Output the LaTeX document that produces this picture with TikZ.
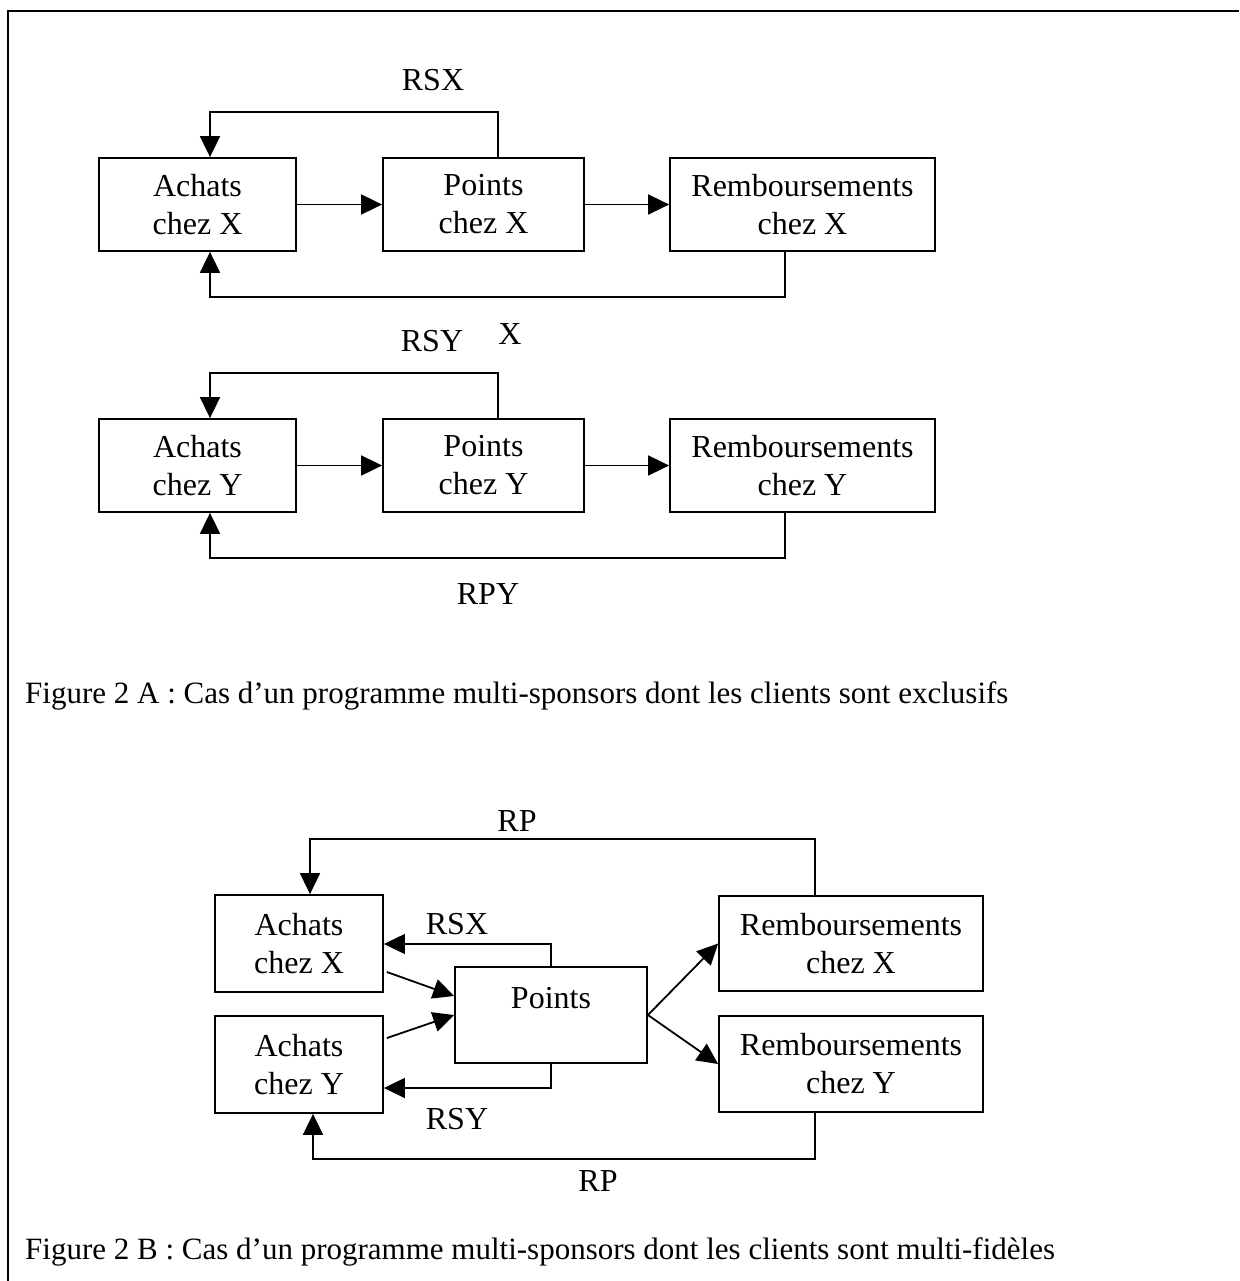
\documentclass[tikz,border=0pt]{standalone}
\usepackage{fontspec}
\setmainfont{Liberation Serif}
\usetikzlibrary{arrows.meta}
\begin{document}
\begin{tikzpicture}[x=1pt,y=-1pt,
  box/.style={draw,line width=1.8pt,inner sep=0pt,align=center,font=\fontsize{32}{38}\selectfont},
  lbl/.style={inner sep=0pt,anchor=base,font=\fontsize{32}{38}\selectfont},
  captext/.style={inner sep=0pt,anchor=base west,font=\fontsize{31}{37}\selectfont},
  arr/.style={line width=1.8pt,-{Triangle[length=21pt,width=20pt]}},
  arrthin/.style={line width=1.1pt,-{Triangle[length=21pt,width=20pt]}}]
\useasboundingbox (0,0) rectangle (1239,1281);
% frame
\draw[line width=2.6pt] (1239,11) -- (8,11) -- (8,1281);

% ---------- Figure A ----------
\node[box,minimum width=197pt,minimum height=93pt] (ax) at (197.5,204.5) {Achats\\chez X};
\node[box,minimum width=201pt,minimum height=93pt] (px) at (483.5,204.5) {Points\\chez X};
\node[box,minimum width=265pt,minimum height=93pt] (rx) at (802.5,204.5) {Remboursements\\chez X};
\node[box,minimum width=197pt,minimum height=93pt] (ay) at (197.5,465.5) {Achats\\chez Y};
\node[box,minimum width=201pt,minimum height=93pt] (py) at (483.5,465.5) {Points\\chez Y};
\node[box,minimum width=265pt,minimum height=93pt] (ry) at (802.5,465.5) {Remboursements\\chez Y};

\draw[arr] (ax.east) -- (px.west);
\draw[arr] (px.east) -- (rx.west);
\draw[arr] (ay.east) -- (py.west);
\draw[arr] (py.east) -- (ry.west);

\coordinate (ca1) at (498,112);
\coordinate (ca2) at (210,112);
\draw[arr] (px.north -| ca1) -- (ca1) -- (ca2) -- (ax.north -| ca2);
\coordinate (ca3) at (785,297);
\coordinate (ca4) at (210,297);
\draw[arr] (rx.south -| ca3) -- (ca3) -- (ca4) -- (ax.south -| ca4);

\coordinate (cb1) at (498,373);
\coordinate (cb2) at (210,373);
\draw[arr] (py.north -| cb1) -- (cb1) -- (cb2) -- (ay.north -| cb2);
\coordinate (cb3) at (785,558);
\coordinate (cb4) at (210,558);
\draw[arr] (ry.south -| cb3) -- (cb3) -- (cb4) -- (ay.south -| cb4);

\node[lbl] (lrsx) at (433,91) {RSX};
\node[lbl] (lx) at (510,344) {X};
\node[lbl] (lrsy) at (432,351) {RSY};
\node[lbl] (lrpy) at (488,604) {RPY};

\node[captext] (capa) at (25,703) {Figure 2 A : Cas d’un programme multi-sponsors dont les clients sont exclusifs};

% ---------- Figure B ----------
\node[box,minimum width=168pt,minimum height=97pt] (bax) at (299,943.5) {Achats\\chez X};
\node[box,minimum width=168pt,minimum height=97pt] (bay) at (299,1064.5) {Achats\\chez Y};
\node[box,minimum width=192pt,minimum height=96pt] (bp) at (551,1015) {};
\node[lbl] (bptxt) at (551,1008) {Points};
\node[box,minimum width=264pt,minimum height=95pt] (brx) at (851,943.5) {Remboursements\\chez X};
\node[box,minimum width=264pt,minimum height=96pt] (bry) at (851,1064) {Remboursements\\chez Y};

\coordinate (cc1) at (815,839);
\coordinate (cc2) at (310,839);
\draw[arr] (brx.north -| cc1) -- (cc1) -- (cc2) -- (bax.north -| cc2);
\coordinate (cc3) at (815,1159);
\coordinate (cc4) at (313,1159);
\draw[arr] (bry.south -| cc3) -- (cc3) -- (cc4) -- (bay.south -| cc4);

\coordinate (cc5) at (551,944);
\draw[arrthin] (bp.north) -- (cc5) -- (bax.east |- cc5);
\coordinate (cc6) at (551,1088);
\draw[arr,line width=1.5pt] (bp.south) -- (cc6) -- (bay.east |- cc6);

\draw[arr] ([xshift=3pt,yshift=-28.5pt]bax.east) -- ([yshift=19pt]bp.west);
\draw[arr] ([xshift=3pt,yshift=26.5pt]bay.east) -- (bp.west);
\draw[arr] (bp.east) -- (brx.west);
\draw[arr] (bp.east) -- (bry.west);

\node[lbl] (lrp1) at (517,831) {RP};
\node[lbl] (lrsx2) at (457,934) {RSX};
\node[lbl] (lrsy2) at (457,1129) {RSY};
\node[lbl] (lrp2) at (598,1191) {RP};

\node[captext] (capb) at (25,1259) {Figure 2 B : Cas d’un programme multi-sponsors dont les clients sont multi-fidèles};
\end{tikzpicture}
\end{document}
